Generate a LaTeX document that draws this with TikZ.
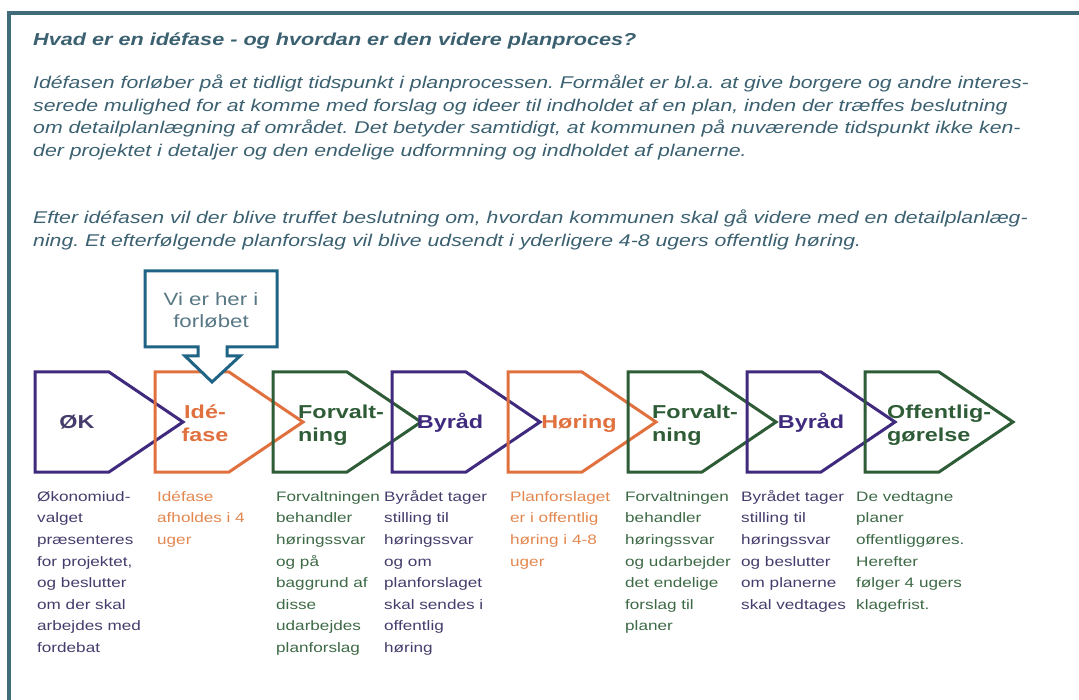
\documentclass[tikz,border=0pt]{standalone}
\usepackage{fontspec}
\setmainfont{Liberation Sans}[FakeStretch=1.25]
\frenchspacing
\definecolor{frameteal}{HTML}{3F6C78}
\definecolor{headteal}{HTML}{3B6070}
\definecolor{calloutblue}{HTML}{1F6385}
\definecolor{plum}{HTML}{3F2A7E}
\definecolor{plumtext}{HTML}{463C6C}
\definecolor{carrot}{HTML}{E0713F}
\definecolor{carrottext}{HTML}{E3874F}
\definecolor{moss}{HTML}{2E5C36}
\definecolor{mosstext}{HTML}{3D6946}
\tikzset{
  phase/.style={line width=3pt, line join=miter},
  tag/.style={font=\fontsize{18.7}{23}\selectfont\bfseries, inner sep=0pt},
  note/.style={font=\fontsize{13.7}{21.6}\selectfont, inner sep=0pt, anchor=north west, align=left},
  para/.style={font=\fontsize{17}{22.5}\selectfont\itshape, text=headteal, inner sep=0pt, anchor=north west, align=left},
}
\begin{document}
\begin{tikzpicture}[x=1pt, y=-1pt]
  \useasboundingbox (0,0) rectangle (1079,700);
  % frame
  \draw[frameteal, line width=4pt, line join=miter] (9,700) -- (9,13) -- (1079,13);

  % heading and text
  \node[anchor=base west, inner sep=0pt, text=headteal, font=\fontsize{17.3}{20}\selectfont\bfseries\itshape]
    (title) at (33,46) {Hvad er en idéfase - og hvordan er den videre planproces?};
  \node[para] (intro) at (33,72.7) {\strut Idéfasen forløber på et tidligt tidspunkt i planprocessen. Formålet er bl.a. at give borgere og andre interes-\\
    serede mulighed for at komme med forslag og ideer til indholdet af en plan, inden der træffes beslutning\\
    om detailplanlægning af området. Det betyder samtidigt, at kommunen på nuværende tidspunkt ikke ken-\\
    der projektet i detaljer og den endelige udformning og indholdet af planerne.};
  \node[para] (after) at (33,208) {\strut Efter idéfasen vil der blive truffet beslutning om, hvordan kommunen skal gå videre med en detailplanlæg-\\
    ning. Et efterfølgende planforslag vil blive udsendt i yderligere 4-8 ugers offentlig høring.};

  % phases
  \draw[phase, plum]   (35,372)  -- ++(74,0) -- ++(74,50) -- ++(-74,50) -- ++(-74,0) -- cycle;
  \draw[phase, carrot] (155,372) -- ++(74,0) -- ++(74,50) -- ++(-74,50) -- ++(-74,0) -- cycle;
  \draw[phase, moss]   (273,372) -- ++(74,0) -- ++(74,50) -- ++(-74,50) -- ++(-74,0) -- cycle;
  \draw[phase, plum]   (392,372) -- ++(74,0) -- ++(74,50) -- ++(-74,50) -- ++(-74,0) -- cycle;
  \draw[phase, carrot] (508,372) -- ++(74,0) -- ++(74,50) -- ++(-74,50) -- ++(-74,0) -- cycle;
  \draw[phase, moss]   (628,372) -- ++(74,0) -- ++(74,50) -- ++(-74,50) -- ++(-74,0) -- cycle;
  \draw[phase, plum]   (747,372) -- ++(74,0) -- ++(74,50) -- ++(-74,50) -- ++(-74,0) -- cycle;
  \draw[phase, moss]   (865,372) -- ++(74,0) -- ++(74,50) -- ++(-74,50) -- ++(-74,0) -- cycle;

  \node[tag, text=plumtext, anchor=base] (ok) at (77,428.7) {ØK};
  \node[tag, text=carrot, anchor=north, align=center] (ide) at (205,401.9) {\strut Idé-\\fase};
  \node[tag, text=moss, anchor=north west, align=left] (forv) at (298,401.9) {\strut Forvalt-\\ning};
  \node[tag, text=plum, anchor=base] (byr) at (450,428.7) {Byråd};
  \node[tag, text=carrot, anchor=base] (hor) at (579,428.7) {Høring};
  \node[tag, text=moss, anchor=north west, align=left] (forvb) at (652,401.9) {\strut Forvalt-\\ning};
  \node[tag, text=plum, anchor=base] (byrb) at (811,428.7) {Byråd};
  \node[tag, text=moss, anchor=north west, align=left] (offl) at (887,401.9) {\strut Offentlig-\\gørelse};

  % callout
  \draw[calloutblue, line width=3pt, line join=miter, fill=white]
    (145,271) -- (277,271) -- (277,347) -- (227,347) -- (227,356) -- (240,356)
    -- (212,382) -- (185,356) -- (198,356) -- (198,347) -- (145,347) -- cycle;
  \node[inner sep=0pt, anchor=north, align=center, text=headteal!85!white,
    font=\fontsize{17.8}{22}\selectfont] (here) at (211,289.6) {\strut Vi er her i\\forløbet};

  % descriptions
  \node[note, text=plumtext] (okTxt) at (37,485.9) {\strut Økonomiud-\\valget\\præsenteres\\for projektet,\\og beslutter\\om der skal\\arbejdes med\\fordebat};
  \node[note, text=carrottext] (ideTxt) at (157,485.9) {\strut Idéfase\\afholdes i 4\\uger};
  \node[note, text=mosstext] (forvTxt) at (276,485.9) {\strut Forvaltningen\\behandler\\høringssvar\\og på\\baggrund af\\disse\\udarbejdes\\planforslag};
  \node[note, text=plumtext] (byrTxt) at (384,485.9) {\strut Byrådet tager\\stilling til\\høringssvar\\og om\\planforslaget\\skal sendes i\\offentlig\\høring};
  \node[note, text=carrottext] (horTxt) at (510,485.9) {\strut Planforslaget\\er i offentlig\\høring i 4-8\\uger};
  \node[note, text=mosstext] (forvbTxt) at (625,485.9) {\strut Forvaltningen\\behandler\\høringssvar\\og udarbejder\\det endelige\\forslag til\\planer};
  \node[note, text=plumtext] (byrbTxt) at (741,485.9) {\strut Byrådet tager\\stilling til\\høringssvar\\og beslutter\\om planerne\\skal vedtages};
  \node[note, text=mosstext] (offlTxt) at (856,485.9) {\strut De vedtagne\\planer\\offentliggøres.\\Herefter\\følger 4 ugers\\klagefrist.};
\end{tikzpicture}
\end{document}
